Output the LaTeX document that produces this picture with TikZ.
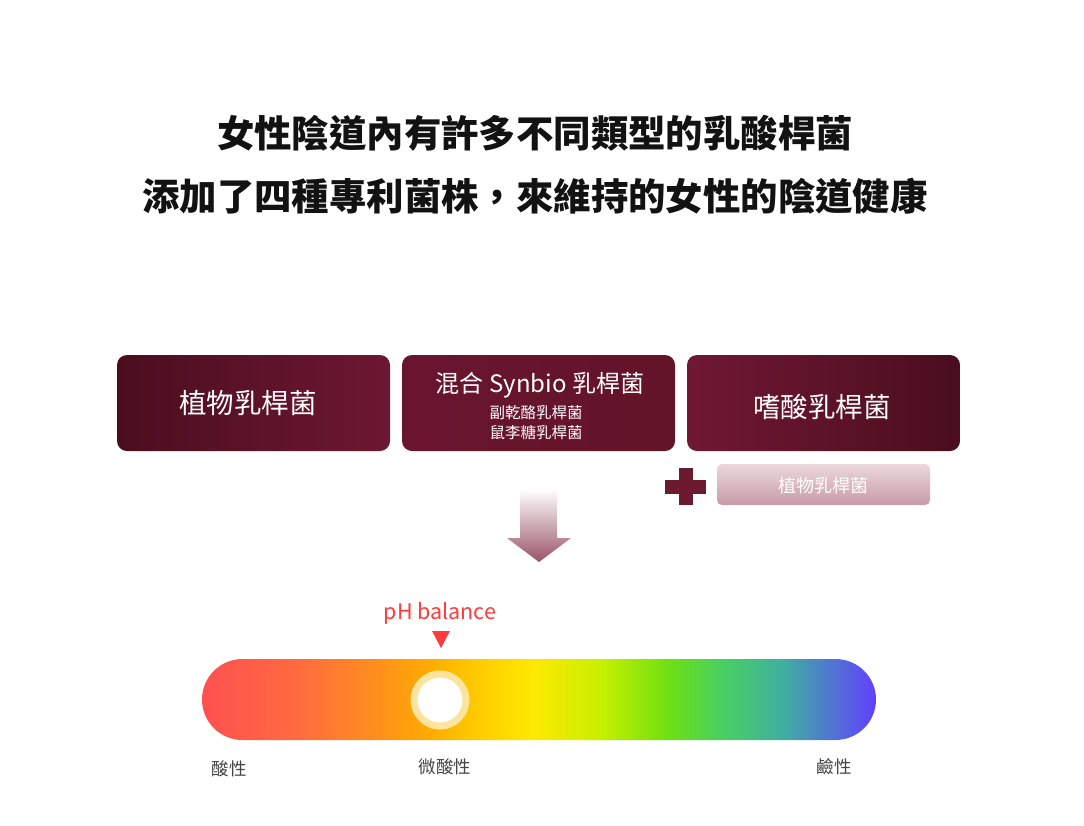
\documentclass[tikz,border=0pt]{standalone}
\usepackage{fontspec}
\setmainfont{Noto Sans CJK TC}
\usetikzlibrary{shapes.geometric}
\definecolor{mA}{HTML}{4B0E1F}
\definecolor{mB}{HTML}{6D1731}
\definecolor{mC}{HTML}{6A1530}
\definecolor{mD}{HTML}{621428}
\definecolor{mE}{HTML}{701833}
\definecolor{mF}{HTML}{4A0E1E}
\definecolor{plusc}{HTML}{6B1A30}
\definecolor{paleT}{HTML}{EBD8DD}
\definecolor{paleB}{HTML}{C89AA6}
\definecolor{arrowB}{HTML}{9A5368}
\definecolor{phred}{HTML}{FF3B3B}
\definecolor{ringc}{HTML}{FCE49C}
\definecolor{labc}{HTML}{444444}
\definecolor{g0}{HTML}{FF5050}
\definecolor{g1}{HTML}{FF6A40}
\definecolor{g2}{HTML}{FF8C20}
\definecolor{g3}{HTML}{FFAC00}
\definecolor{g4}{HTML}{FFC800}
\definecolor{g5}{HTML}{FFE800}
\definecolor{g6}{HTML}{C8F000}
\definecolor{g7}{HTML}{70E010}
\definecolor{g8}{HTML}{48D060}
\definecolor{g9}{HTML}{40B0A0}
\definecolor{g10}{HTML}{6040FF}
\pgfdeclarehorizontalshading{phbar}{100bp}{
  color(0bp)=(g0);
  color(25bp)=(g0);
  color(32bp)=(g1);
  color(37.5bp)=(g2);
  color(42bp)=(g3);
  color(45bp)=(g4);
  color(49.5bp)=(g5);
  color(54.5bp)=(g6);
  color(59.5bp)=(g7);
  color(63.5bp)=(g8);
  color(68bp)=(g9);
  color(75bp)=(g10);
  color(100bp)=(g10)}
\begin{document}
\begin{tikzpicture}[x=1pt,y=-1pt,
  title/.style={font=\fontsize{37.4}{42}\selectfont\bfseries, text=black!93, inner sep=0pt},
  boxbase/.style={rounded corners=10pt, minimum width=273pt, minimum height=96pt, inner sep=0pt},
  boxtxt/.style={text=white, inner sep=0pt},
  lab/.style={font=\fontsize{17.5}{20}\selectfont, text=labc, inner sep=0pt}]
\useasboundingbox (0,0) rectangle (1084,825);
\fill[white] (0,0) rectangle (1084,825);
% titles
\node[title] (t1) at (535,133) {女性陰道內有許多不同類型的乳酸桿菌};
\node[title] (t2) at (535,196) {添加了四種專利菌株，來維持的女性的陰道健康};
% boxes
\node[boxbase, left color=mA, right color=mB] (b1) at (253.5,403) {};
\node[boxbase, left color=mC, right color=mD] (b2) at (538.5,403) {};
\node[boxbase, left color=mE, right color=mF] (b3) at (823.5,403) {};
\node[boxtxt, font=\fontsize{27.5}{30}\selectfont] (b1t) at (248,403) {植物乳桿菌};
\node[boxtxt, font=\fontsize{24}{28}\selectfont] (b2t) at (540,385) {混合 Synbio 乳桿菌};
\node[boxtxt, font=\fontsize{15.5}{18}\selectfont] (b2s1) at (536,413) {副乾酪乳桿菌};
\node[boxtxt, font=\fontsize{15.5}{18}\selectfont] (b2s2) at (536,433) {鼠李糖乳桿菌};
\node[boxtxt, font=\fontsize{27.5}{30}\selectfont] (b3t) at (822,407) {嗜酸乳桿菌};
% plus
\fill[plusc] (679,468) rectangle (693,505);
\fill[plusc] (665,480) rectangle (706,494);
% small pale box
\node[rounded corners=5pt, minimum width=213pt, minimum height=41pt, inner sep=0pt,
      top color=paleT, bottom color=paleB] (sb) at (823.5,484.5) {};
\node[boxtxt, font=\fontsize{18}{20}\selectfont] (sbt) at (823,486) {植物乳桿菌};
% arrow
\shade[top color=white, bottom color=arrowB]
  (520,489) -- (557,489) -- (557,538) -- (571,538) -- (539,562) -- (507,538) -- (520,538) -- cycle;
% pH label and marker
\node[font=\fontsize{21.5}{24}\selectfont, text=phred, inner sep=0pt] (ph) at (440,613) {pH balance};
\fill[phred] (432,631) -- (450,631) -- (441,648) -- cycle;
% bar
\shade[shading=phbar, rounded corners=40.5pt] (202,659) rectangle (876,740);
\fill[ringc] (440,700) circle (29.5);
\fill[white] (440,700) circle (22.5);
% labels
\node[lab] (l1) at (229,769) {酸性};
\node[lab] (l2) at (445,767) {微酸性};
\node[lab] (l3) at (834,767) {鹼性};
\end{tikzpicture}
\end{document}
